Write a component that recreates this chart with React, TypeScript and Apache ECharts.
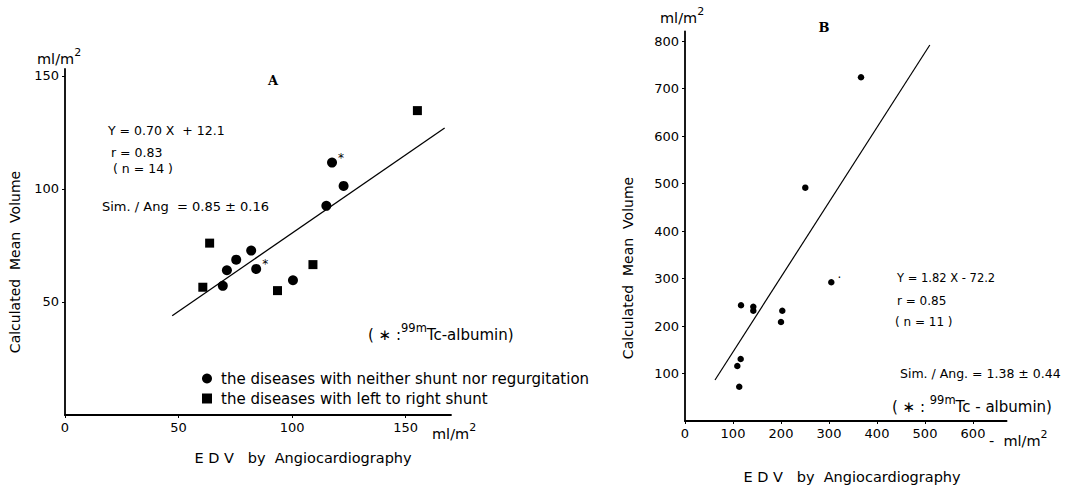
import React, { useEffect, useRef } from "react";
import * as echarts from "echarts";

// ---------- Panel A data ----------
const aNeitherName = "the diseases with neither shunt nor regurgitation";
const aShuntName = "the diseases with left to right shunt";
const aNeitherX = [117.6, 122.7, 115.1, 82.0, 75.4, 71.3, 84.2, 100.4, 69.5];
const aNeitherY = [111.6, 101.3, 92.5, 72.7, 68.7, 64.0, 64.6, 59.6, 57.1];
const aNeitherAlbumin = [true, false, false, false, false, false, true, false, false];
const aShuntX = [155.2, 63.7, 109.2, 60.7, 93.6];
const aShuntY = [134.6, 76.0, 66.5, 56.5, 55.0];
const aLineX = [47.2, 167.2];
const aLineY = [43.9, 126.9];
const aXTicks = [0, 50, 100, 150];
const aYTicks = [50, 100, 150];

// ---------- Panel B data ----------
const bX = [366.7, 250.6, 304.8, 116.7, 142.3, 142.3, 202.7, 200.0, 116.0, 109.0, 113.0];
const bY = [723.6, 491.2, 292.0, 243.6, 240.6, 232.2, 232.2, 208.4, 130.5, 115.8, 72.2];
const bAlbumin = [false, false, true, false, false, false, false, false, false, false, false];
const bLineX = [62.5, 510];
const bLineY = [86.3, 791.6];
const bXTicks = [0, 100, 200, 300, 400, 500, 600];
const bYTicks = [100, 200, 300, 400, 500, 600, 700, 800];

const FONT = "'DejaVu Sans', sans-serif";
const INK = "#000";

function mkRich(main: number, sup: number) {
  return {
    n: { fontSize: main, fontFamily: FONT, color: INK, lineHeight: main + 5, verticalAlign: "bottom" },
    sup: { fontSize: sup, fontFamily: FONT, color: INK, lineHeight: sup + 1, verticalAlign: "top" },
  };
}

function txt(text: string, x: number, y: number, opts: any = {}) {
  return {
    type: "text",
    x,
    y,
    rotation: opts.rotation || 0,
    silent: true,
    style: {
      text,
      fill: INK,
      fontSize: opts.fontSize || 13,
      fontFamily: opts.fontFamily || FONT,
      fontWeight: opts.fontWeight || "normal",
      align: opts.align || "left",
      verticalAlign: opts.verticalAlign || "middle",
      textAlign: opts.align || "left",
      textVerticalAlign: opts.verticalAlign || "middle",
      rich: opts.rich,
    },
  };
}

function axisBase(custom: number[]) {
  return {
    axisLine: { show: true, lineStyle: { color: INK, width: 1.8 } },
    axisTick: { show: true, length: 3, inside: false, customValues: custom, lineStyle: { color: INK, width: 1 } },
    axisLabel: { customValues: custom, color: INK, fontSize: 13, fontFamily: FONT, margin: 6 },
    splitLine: { show: false },
  };
}

const starLabel = (txtStr: string, size: number, off: number[]) => ({
  show: true,
  formatter: txtStr,
  position: "right",
  offset: off,
  color: INK,
  fontSize: size,
  fontFamily: FONT,
  textBorderWidth: 0,
});

export default function App() {
  const ref = useRef<HTMLDivElement>(null);
  useEffect(() => {
    if (!ref.current) return;
    const chart = echarts.init(ref.current, null, { renderer: "svg" });

    const neitherData = aNeitherX.map((x, i) => ({
      value: [x, aNeitherY[i]],
      label: aNeitherAlbumin[i] ? starLabel("*", 12, [-4, -5]) : { show: false },
    }));
    const shuntData = aShuntX.map((x, i) => [x, aShuntY[i]]);
    const bData = bX.map((x, i) => ({
      value: [x, bY[i]],
      label: bAlbumin[i] ? starLabel("·", 12, [-2, -4]) : { show: false },
    }));

    const richA = mkRich(14.5, 11);
    const richNote = mkRich(15, 11.5);

    const option: any = {
      animation: false,
      backgroundColor: "#fff",
      grid: [
        { left: 65, top: 69, width: 386, height: 346 },
        { left: 685, top: 31.5, width: 321.6, height: 389.5 },
      ],
      xAxis: [
        { type: "value", gridIndex: 0, min: 0, max: 170, ...axisBase(aXTicks) },
        { type: "value", gridIndex: 1, min: 0, max: 670, ...axisBase(bXTicks) },
      ],
      yAxis: [
        { type: "value", gridIndex: 0, min: 0, max: 153, ...axisBase(aYTicks) },
        { type: "value", gridIndex: 1, min: 0, max: 820, ...axisBase(bYTicks) },
      ],
      legend: {
        data: [
          { name: aNeitherName, icon: "circle", itemStyle: { color: INK, opacity: 1 } },
          { name: aShuntName, icon: "rect", itemStyle: { color: INK, opacity: 1 } },
        ],
        orient: "vertical",
        left: 197,
        top: 366,
        itemWidth: 10,
        itemHeight: 10,
        itemGap: 5,
        selectedMode: false,
        textStyle: { color: INK, fontSize: 15, fontFamily: FONT, padding: [0, 0, 0, 4] },
      },
      series: [
        {
          name: "A regression",
          type: "line",
          xAxisIndex: 0,
          yAxisIndex: 0,
          data: aLineX.map((x, i) => [x, aLineY[i]]),
          symbol: "none",
          lineStyle: { color: INK, width: 1.3 },
          silent: true,
        },
        {
          name: aNeitherName,
          type: "scatter",
          xAxisIndex: 0,
          yAxisIndex: 0,
          symbol: "circle",
          symbolSize: 10,
          itemStyle: { color: INK, opacity: 1 },
          data: neitherData,
        },
        {
          name: aShuntName,
          type: "scatter",
          xAxisIndex: 0,
          yAxisIndex: 0,
          symbol: "rect",
          symbolSize: 9,
          itemStyle: { color: INK, opacity: 1 },
          data: shuntData,
        },
        {
          name: "B regression",
          type: "line",
          xAxisIndex: 1,
          yAxisIndex: 1,
          data: bLineX.map((x, i) => [x, bLineY[i]]),
          symbol: "none",
          lineStyle: { color: INK, width: 1.2 },
          silent: true,
        },
        {
          name: "B patients",
          type: "scatter",
          xAxisIndex: 1,
          yAxisIndex: 1,
          symbol: "circle",
          symbolSize: 6.5,
          itemStyle: { color: INK, opacity: 1 },
          data: bData,
        },
      ],
      graphic: [
        // Panel A
        txt("{n|ml/m}{sup|2}", 37, 57, { rich: richA }),
        txt("A", 273, 80, { fontFamily: "'DejaVu Serif', serif", fontWeight: "bold", fontSize: 13, align: "center" }),
        txt("Y = 0.70 X  + 12.1", 108, 130, { fontSize: 12.5 }),
        txt("r = 0.83", 111, 152, { fontSize: 12.5 }),
        txt("( n = 14 )", 113, 168, { fontSize: 12.5 }),
        txt("Sim. / Ang  = 0.85 ± 0.16", 102, 206, { fontSize: 13 }),
        txt("{n|( ∗ :}{sup|99m}{n|Tc-albumin)}", 368, 332, { rich: richNote }),
        txt("{n|ml/m}{sup|2}", 432, 432, { rich: richA }),
        txt("E D V   by  Angiocardiography", 303, 458, { align: "center", fontSize: 14.5 }),
        txt("Calculated  Mean  Volume", 15, 262, { rotation: Math.PI / 2, align: "center", fontSize: 14 }),
        // Panel B
        txt("{n|ml/m}{sup|2}", 660, 16, { rich: richA }),
        txt("B", 824, 27, { fontFamily: "'DejaVu Serif', serif", fontWeight: "bold", fontSize: 13, align: "center" }),
        txt("Y = 1.82 X - 72.2", 897, 278, { fontSize: 11.5 }),
        txt("r = 0.85", 897, 301, { fontSize: 12 }),
        txt("( n = 11 )", 895, 322, { fontSize: 12 }),
        txt("Sim. / Ang. = 1.38 ± 0.44", 900, 373, { fontSize: 12.5 }),
        txt("{n|( ∗ : }{sup|99m}{n|Tc - albumin)}", 892, 404, { rich: richNote }),
        txt("{n|-  ml/m}{sup|2}", 989, 439, { rich: richA }),
        txt("E D V   by  Angiocardiography", 852, 477, { align: "center", fontSize: 14.5 }),
        txt("Calculated  Mean  Volume", 628, 268, { rotation: Math.PI / 2, align: "center", fontSize: 14 }),
      ],
    };
    chart.setOption(option);
    return () => chart.dispose();
  }, []);
  return (
    <div
      ref={ref}
      style={{ position: "fixed", left: 0, top: 0, width: 1074, height: 489, background: "#fff" }}
    />
  );
}
